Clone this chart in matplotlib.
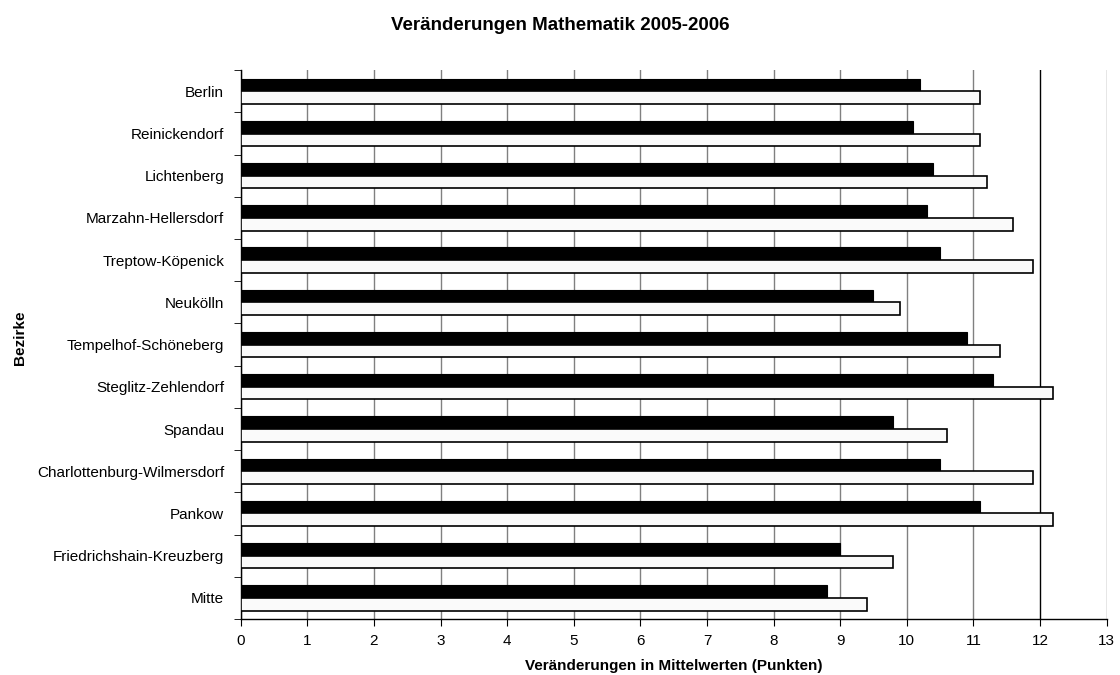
import matplotlib
matplotlib.use("Agg")
import matplotlib.pyplot as plt
import numpy as np

plt.rcParams['font.family'] = ['Liberation Sans', 'DejaVu Sans']

# Bezirke, von oben nach unten wie im Original
bezirke = ["Berlin", "Reinickendorf", "Lichtenberg", "Marzahn-Hellersdorf",
           "Treptow-Köpenick", "Neukölln", "Tempelhof-Schöneberg",
           "Steglitz-Zehlendorf", "Spandau", "Charlottenburg-Wilmersdorf",
           "Pankow", "Friedrichshain-Kreuzberg", "Mitte"]
werte_2005 = [10.2, 10.1, 10.4, 10.3, 10.5, 9.5, 10.9, 11.3, 9.8, 10.5, 11.1, 9.0, 8.8]
werte_2006 = [11.1, 11.1, 11.2, 11.6, 11.9, 9.9, 11.4, 12.2, 10.6, 11.9, 12.2, 9.8, 9.4]
x_ticks = list(range(0, 14))

fig = plt.figure(figsize=(11.2, 6.75), dpi=100)
ax = fig.add_axes([0.215, 0.083, 0.773, 0.813])

n = len(bezirke)
y = np.arange(n)[::-1]
h = 0.3
ax.barh(y + h / 2, werte_2005, height=h, color='black', edgecolor='black', linewidth=0.8, zorder=3)
ax.barh(y - h / 2, werte_2006, height=h, color='#fafafa', edgecolor='black', linewidth=1.2, zorder=3)

ax.set_xlim(0, 13)
ax.set_ylim(-0.5, n - 0.5)
ax.set_xticks(x_ticks)
ax.set_xticklabels([str(t) for t in x_ticks], fontsize=11)
ax.set_yticks(y)
ax.set_yticklabels(bezirke, fontsize=11)
ax.tick_params(axis='y', length=0, pad=12)
ax.set_yticks(np.arange(-0.5, n, 1), minor=True)
ax.tick_params(axis='y', which='minor', length=5, direction='out')
ax.tick_params(axis='x', length=5, direction='out', pad=6)

ax.grid(axis='x', color='#808080', linewidth=1.0, zorder=0)
ax.get_xgridlines()[12].set_color('black')
ax.set_axisbelow(True)

for s in ['top', 'right']:
    ax.spines[s].set_visible(False)
ax.spines['left'].set_linewidth(1.0)
ax.spines['bottom'].set_linewidth(1.0)

ax.set_xlabel("Veränderungen in Mittelwerten (Punkten)", fontsize=11, fontweight='bold', labelpad=8)
fig.text(0.012, 0.5, "Bezirke", rotation=90, fontsize=11, fontweight='bold', va='center', ha='left')
fig.suptitle("Veränderungen Mathematik 2005-2006", fontsize=13.5, fontweight='bold', y=0.975)

fig.savefig("out.png", dpi=100)
